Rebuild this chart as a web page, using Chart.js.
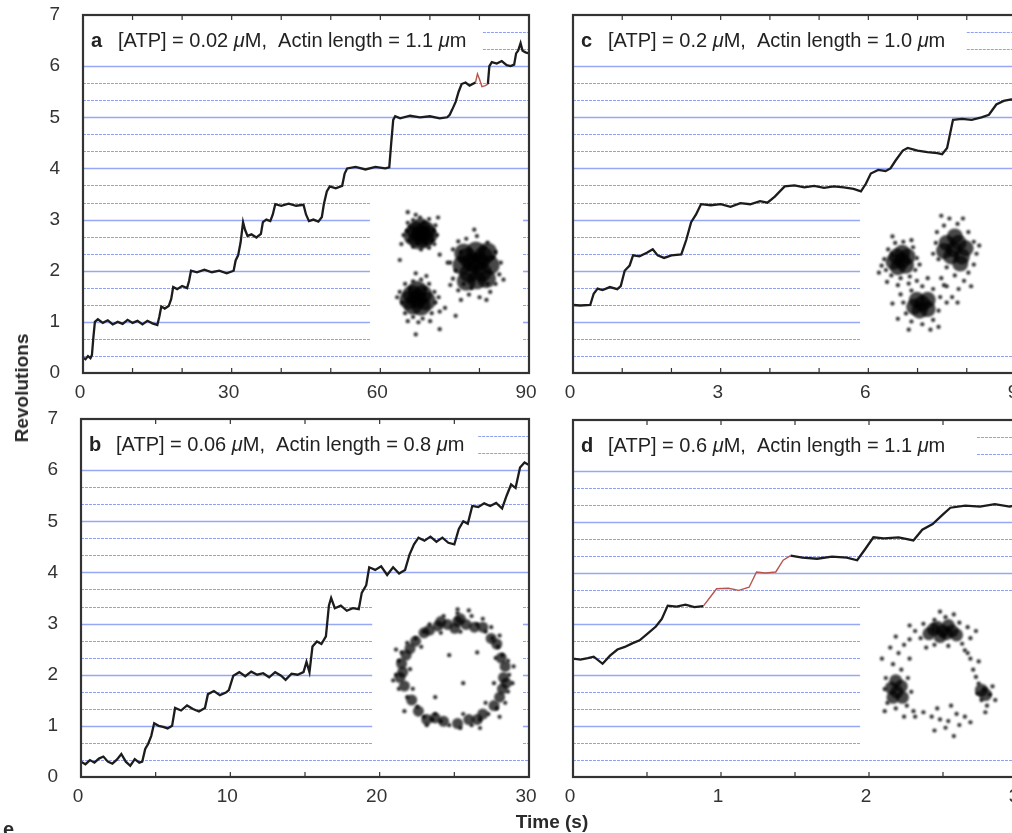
<!DOCTYPE html>
<html>
<head>
<meta charset="utf-8">
<script src="https://cdn.jsdelivr.net/npm/chart.js@4.4.1/dist/chart.umd.min.js"></script>
<style>
  html, body { margin: 0; padding: 0; background: #fff; }
  body { width: 1012px; height: 833px; overflow: hidden; position: relative; font-family: 'Liberation Sans', Arial, sans-serif; }
  canvas { position: absolute; }
  .lbl { position: absolute; font-weight: bold; font-size: 19px; color: #2a2a2a; white-space: nowrap; }
</style>
</head>
<body>
<canvas id="panelA" width="545" height="400" style="left:0;top:0"></canvas>
<canvas id="panelB" width="545" height="433" style="left:0;top:400px"></canvas>
<canvas id="panelC" width="500" height="400" style="left:545px;top:0"></canvas>
<canvas id="panelD" width="500" height="433" style="left:545px;top:400px"></canvas>
<canvas id="insetA" width="170" height="170" style="left:360px;top:183px"></canvas>
<canvas id="insetB" width="170" height="170" style="left:367px;top:587px"></canvas>
<canvas id="insetC" width="170" height="170" style="left:840px;top:185px"></canvas>
<canvas id="insetD" width="170" height="170" style="left:855px;top:593px"></canvas>
<div class="lbl" style="left:22px;top:388px;transform:translate(-50%,-50%) rotate(-90deg)">Revolutions</div>
<div class="lbl" style="left:552px;top:822px;transform:translate(-50%,-50%)">Time (s)</div>
<div class="lbl" style="left:3px;top:818px;font-size:20px">e</div>
<script>
// ---- traces: [time (s), revolutions] ----
const traceA = [[0,0.3],[0.5,0.27],[1,0.33],[1.5,0.29],[1.8,0.35],[2.1,0.7],[2.4,1.0],[3,1.05],[4,0.98],[5,1.03],[6,0.95],[7,1.0],[8,0.96],[9,1.04],[10,0.98],[11,1.02],[12,0.95],[13,1.02],[14,0.97],[15,0.94],[15.4,1.1],[15.8,1.3],[16.5,1.26],[17.3,1.31],[17.8,1.45],[18.2,1.68],[19,1.64],[20,1.7],[21,1.66],[21.4,1.8],[21.8,2.0],[23,1.97],[24.5,2.02],[26,1.97],[27.5,2.0],[29,1.95],[30.4,2.0],[30.8,2.2],[31.3,2.3],[31.8,2.55],[32.3,2.95],[32.7,2.8],[33.2,2.68],[34,2.71],[35,2.65],[35.9,2.72],[36.3,2.95],[37,3.0],[37.8,2.97],[38.3,3.1],[38.8,3.3],[40,3.27],[41.5,3.31],[43,3.27],[44.5,3.29],[45,3.1],[45.6,2.97],[46.5,3.0],[47.5,2.96],[48.2,3.05],[48.6,3.3],[49.2,3.55],[49.8,3.65],[51,3.61],[52.3,3.66],[52.8,3.9],[53.3,4.0],[55,4.03],[57,3.98],[59,4.03],[61,4.0],[61.8,4.02],[62.2,4.5],[62.6,4.95],[63,5.02],[64,4.98],[66,5.03],[68,5.0],[70,5.02],[72,4.98],[73.5,5.0],[74,5.05],[74.5,5.15],[75.2,5.3],[75.8,5.5],[76.4,5.65],[77.2,5.68],[78,5.62],[79.2,5.68]];
const traceARed = [[79.2,5.68],[79.6,5.85],[80,5.75],[80.5,5.6],[81.2,5.62],[81.7,5.65]];
const traceAEnd = [[81.7,5.65],[82,6.0],[82.5,6.08],[83.5,6.05],[84.5,6.1],[85.5,6.02],[86.3,6.0],[87,6.03],[87.4,6.25],[87.8,6.3],[88.3,6.45],[88.7,6.3],[89.3,6.27],[90,6.25]];

const traceB = [[0,0.3],[0.3,0.25],[0.6,0.33],[0.9,0.28],[1.2,0.36],[1.5,0.4],[1.8,0.3],[2.1,0.26],[2.4,0.34],[2.7,0.45],[3,0.3],[3.3,0.22],[3.6,0.35],[3.9,0.28],[4.1,0.3],[4.3,0.55],[4.5,0.65],[4.7,0.8],[4.9,1.05],[5.2,1.0],[5.5,0.98],[5.8,0.95],[6.1,1.0],[6.3,1.35],[6.7,1.3],[7.1,1.4],[7.5,1.33],[7.9,1.28],[8.3,1.35],[8.5,1.62],[8.9,1.68],[9.3,1.6],[9.7,1.65],[9.9,1.7],[10.2,1.98],[10.6,2.05],[11,1.97],[11.4,2.06],[11.8,2.0],[12.2,2.03],[12.6,1.95],[13,2.05],[13.4,1.98],[13.7,1.9],[14.1,2.02],[14.5,2.0],[14.9,2.05],[15.1,2.25],[15.3,2.05],[15.5,2.55],[15.8,2.65],[16.1,2.6],[16.4,2.75],[16.6,3.35],[16.75,3.5],[17,3.3],[17.4,3.35],[17.8,3.25],[18.2,3.3],[18.6,3.28],[18.8,3.6],[19.1,3.75],[19.3,4.1],[19.7,4.05],[20.1,4.12],[20.5,3.95],[20.9,4.1],[21.3,3.98],[21.7,4.05],[22,4.35],[22.3,4.55],[22.6,4.68],[23,4.62],[23.4,4.7],[23.8,4.6],[24.2,4.68],[24.6,4.58],[25,4.55],[25.3,4.85],[25.6,5.0],[25.9,4.95],[26.2,5.3],[26.6,5.28],[27,5.35],[27.4,5.3],[27.8,5.36],[28.2,5.25],[28.5,5.5],[28.8,5.72],[29.1,5.65],[29.4,6.05],[29.7,6.15],[30,6.1]];

const traceC = [[0,1.33],[0.15,1.32],[0.35,1.33],[0.42,1.55],[0.5,1.65],[0.6,1.62],[0.75,1.68],[0.9,1.64],[0.97,1.7],[1.05,2.0],[1.15,2.1],[1.22,2.3],[1.35,2.28],[1.5,2.35],[1.62,2.42],[1.72,2.3],[1.85,2.25],[2,2.3],[2.2,2.32],[2.3,2.6],[2.4,2.95],[2.5,3.1],[2.6,3.3],[2.8,3.28],[3,3.3],[3.2,3.25],[3.4,3.32],[3.6,3.3],[3.8,3.36],[3.95,3.33],[4.1,3.45],[4.3,3.65],[4.5,3.67],[4.7,3.63],[4.9,3.66],[5.1,3.62],[5.3,3.65],[5.5,3.63],[5.7,3.6],[5.85,3.55],[5.95,3.7],[6.05,3.9],[6.2,3.97],[6.35,3.95],[6.45,4.0],[6.55,4.15],[6.7,4.35],[6.8,4.4],[7,4.35],[7.2,4.32],[7.4,4.3],[7.5,4.28],[7.6,4.4],[7.72,4.95],[7.9,4.97],[8.1,4.95],[8.3,5.0],[8.45,5.05],[8.6,5.25],[8.75,5.32],[8.9,5.35],[9,5.33]];

const traceD = [[0,2.32],[0.05,2.3],[0.1,2.33],[0.14,2.36],[0.2,2.22],[0.25,2.38],[0.3,2.5],[0.35,2.55],[0.4,2.62],[0.45,2.68],[0.5,2.8],[0.56,2.95],[0.6,3.1],[0.64,3.36],[0.7,3.34],[0.76,3.38],[0.82,3.33],[0.88,3.35]];
const traceDRed = [[0.88,3.35],[0.92,3.5],[0.97,3.69],[1.05,3.7],[1.12,3.66],[1.19,3.72],[1.24,4.02],[1.3,4.0],[1.37,4.02],[1.42,4.25],[1.47,4.34]];
const traceDEnd = [[1.47,4.34],[1.55,4.3],[1.65,4.28],[1.75,4.32],[1.85,4.3],[1.92,4.25],[1.97,4.45],[2.03,4.7],[2.1,4.68],[2.2,4.7],[2.3,4.64],[2.36,4.85],[2.43,4.96],[2.5,5.15],[2.55,5.28],[2.65,5.32],[2.75,5.3],[2.85,5.35],[2.95,5.3],[3,5.33]];

// ---- 120 degree reference levels (revolutions) ----
const fullLevels = [0.333, 3.667, 4, 4.333, 4.667, 5, 5.333, 5.667, 6];
const cutLevels = [0.667, 1, 1.333, 1.667, 2, 2.333, 2.667, 3, 3.333];
const topLevels = [6.333, 6.667];
const yTicks = [0, 1, 2, 3, 4, 5, 6, 7];

// ---- inset bead positions [x, y] (arb. units) ----
const insetACore = [[-0.45,0.63],[-0.55,0.7],[-0.36,0.7],[-0.5,0.53],[-0.38,0.55],[-0.46,0.76],[-0.6,0.6],[-0.32,0.62],
  [0.58,0.08],[0.42,0.2],[0.72,0.22],[0.45,-0.1],[0.7,-0.08],[0.58,0.32],[0.6,-0.22],[0.32,0.05],[0.85,0.05],[0.5,0.1],[0.65,0.12],[0.4,-0.25],[0.78,-0.2],[0.35,0.28],[0.8,0.3],
  [-0.52,-0.58],[-0.62,-0.5],[-0.42,-0.5],[-0.6,-0.7],[-0.45,-0.72],[-0.52,-0.42],[-0.35,-0.62],[-0.68,-0.6]];
const insetASpread = [[-0.72,0.7],[-0.68,0.52],[-0.7,0.85],[-0.6,0.9],[-0.47,0.95],[-0.3,0.92],[-0.18,0.8],[-0.15,0.62],[-0.2,0.45],[-0.3,0.38],[-0.45,0.35],[-0.6,0.4],[-0.78,0.62],[-0.55,1.0],[-0.25,0.52],[-0.65,0.78],[-0.4,0.85],[-0.52,0.45],[-0.35,0.45],[-0.22,0.7],[-0.82,0.45],[-0.13,0.95],
  [0.1,0.1],[0.15,0.35],[0.25,0.5],[0.4,0.55],[0.6,0.6],[0.8,0.48],[0.95,0.3],[1.05,0.1],[1.02,-0.12],[0.95,-0.3],[0.85,-0.45],[0.65,-0.55],[0.45,-0.5],[0.25,-0.42],[0.15,-0.2],[0.2,-0.05],[0.3,0.3],[0.8,-0.3],[0.9,0.2],[0.35,-0.3],[0.75,0.38],[0.5,-0.38],[0.1,-0.32],[1.1,-0.22],[0.55,0.72],[0.3,-0.6],[0.78,-0.6],
  [-0.85,-0.45],[-0.8,-0.65],[-0.75,-0.85],[-0.6,-0.92],[-0.42,-0.95],[-0.25,-0.85],[-0.18,-0.65],[-0.2,-0.45],[-0.3,-0.3],[-0.45,-0.22],[-0.6,-0.25],[-0.75,-0.3],[-0.35,-0.15],[-0.5,-1.02],[-0.12,-0.55],[-0.7,-1.0],[-0.28,-1.0],[-0.9,-0.55],[-0.55,-0.1],[-0.1,-0.82],[-0.38,-0.4],[-0.65,-0.4],
  [0.0,-0.75],[-0.1,-1.15],[-0.55,-1.25],[0.2,-0.9],[0.05,0.1],[-0.1,0.25],[-0.85,0.15],[-0.7,1.05]];

const insetBCore = [[-0.08,0.85],[0.1,0.9],[0.25,0.85],[-0.25,0.82],[0.05,0.78],[0.4,0.8],[-0.4,0.75],
  [0.92,-0.1],[0.9,-0.3],[0.95,0.1],[0.85,-0.45],[0.88,0.25],
  [-0.88,0.0],[-0.85,-0.25],[-0.72,-0.5],[-0.6,-0.7],[-0.82,0.3],[-0.65,0.55],
  [0.3,-0.85],[0.1,-0.92],[0.55,-0.75],[-0.15,-0.88],[0.7,0.6],[-0.45,-0.85],
  [0.55,0.8],[0.8,0.5],[0.97,-0.2],[0.75,-0.6],[0.45,-0.85],[-0.3,-0.82],[-0.93,-0.1],[-0.9,0.15],[-0.75,0.42],[-0.5,0.7],[-0.2,0.9],[0.15,0.95]];
const insetBSpread = [[0.45,0.85],[0.6,0.72],[0.72,0.6],[0.82,0.45],[0.9,0.3],[1.0,0.2],[1.02,-0.05],[1.0,-0.35],[0.95,-0.55],[0.8,-0.65],[0.65,-0.75],[0.5,-0.85],[0.35,-0.95],[0.15,-1.0],[-0.05,-0.95],[-0.2,-0.88],[-0.35,-0.85],[-0.5,-0.8],[-0.62,-0.62],[-0.8,-0.45],[-0.95,-0.3],[-1.0,-0.05],[-0.95,0.2],[-0.9,0.35],[-0.8,0.52],[-0.65,0.6],[-0.5,0.72],[-0.4,0.85],[-0.15,1.0],[0.1,1.05],[0.35,1.0],[0.55,0.95],[0.7,0.8],[0.78,0.25],[0.75,-0.2],[-0.75,0.05],[-0.7,-0.3],[-0.55,0.45],[0.6,-0.55],[0.2,-0.75],[-0.3,-0.75],[0.15,0.72],[-0.2,0.7],[1.08,-0.2],[-1.05,-0.15],[0.1,1.12],[0.3,1.1],[-0.3,-0.45],[0.2,-0.2],[-0.05,0.3],[0.45,0.35],[1.1,0.1],[-1.0,0.4],[0.85,-0.8],[0.85,0.65],[-0.85,-0.7],[-0.45,-0.95],[0.5,-1.0]];

const insetCCore = [[-0.42,0.17],[-0.52,0.25],[-0.32,0.25],[-0.5,0.05],[-0.35,0.08],[-0.42,0.32],[-0.58,0.15],
  [0.53,0.38],[0.4,0.5],[0.62,0.5],[0.48,0.25],[0.68,0.25],[0.55,0.62],[0.35,0.35],[0.75,0.4],[0.65,0.12],
  [-0.05,-0.62],[-0.15,-0.55],[0.05,-0.55],[-0.1,-0.75],[0.05,-0.72],[-0.2,-0.68]];
const insetCSpread = [[-0.75,0.2],[-0.72,0.0],[-0.68,0.38],[-0.55,0.5],[-0.4,0.52],[-0.22,0.42],[-0.15,0.22],[-0.18,0.0],[-0.28,-0.12],[-0.45,-0.15],[-0.62,-0.1],[-0.8,0.08],[-0.6,0.3],[-0.3,-0.25],[-0.85,-0.05],[-0.5,-0.28],[-0.25,0.55],[-0.1,0.1],[-0.7,-0.22],[-0.6,0.62],
  [0.2,0.5],[0.22,0.7],[0.35,0.82],[0.45,0.95],[0.6,0.85],[0.8,0.7],[0.9,0.52],[0.95,0.3],[0.9,0.1],[0.8,-0.05],[0.72,-0.2],[0.55,-0.1],[0.4,0.05],[0.25,0.2],[0.3,-0.15],[0.62,-0.35],[0.5,-0.5],[0.4,-0.3],[0.15,0.3],[1.0,0.45],[0.7,0.95],[0.3,1.0],[0.85,-0.3],[0.6,-0.6],
  [-0.4,-0.6],[-0.35,-0.8],[-0.25,-0.95],[-0.05,-1.0],[0.15,-0.92],[0.25,-0.75],[0.28,-0.5],[0.15,-0.35],[-0.05,-0.3],[-0.25,-0.38],[-0.45,-0.45],[0.35,-0.28],[-0.5,-0.9],[0.1,-1.1],[-0.3,-1.1],[0.4,-0.6],[-0.15,-0.2],[0.05,-0.15],[-0.6,-0.62],[0.25,-1.05]];

const insetDCore = [[0.05,0.85],[-0.12,0.88],[0.22,0.85],[0.0,0.75],[0.15,0.95],[-0.2,0.8],[0.3,0.78],[0.12,0.8],[-0.05,0.92],
  [-0.78,-0.25],[-0.88,-0.18],[-0.7,-0.15],[-0.85,-0.35],[-0.68,-0.35],[-0.8,-0.05],[0.82,-0.3],[0.75,-0.22]];
const insetDSpread = [[-0.45,0.85],[-0.35,0.72],[-0.3,0.98],[-0.1,1.05],[0.1,1.1],[0.35,1.0],[0.5,0.92],[0.55,0.72],[0.4,0.62],[0.15,0.58],[-0.1,0.6],[0.65,0.85],[-0.55,0.95],[0.25,1.15],[0.0,1.2],[-0.25,0.55],[0.45,0.5],
  [-1.0,-0.2],[-0.98,0.0],[-0.95,-0.45],[-0.8,-0.55],[-0.6,-0.5],[-0.52,-0.25],[-0.58,0.0],[-0.7,0.15],[-0.85,0.25],[-0.75,0.45],[-0.9,0.55],[-0.65,0.6],[-0.55,0.7],[-0.8,0.75],[-1.05,0.35],[-0.48,-0.6],[-0.65,-0.7],[-1.0,-0.6],[-0.55,0.35],
  [0.7,-0.1],[0.8,-0.2],[0.9,-0.3],[0.75,-0.4],[0.85,-0.5],[0.95,-0.15],[0.68,-0.28],[0.6,0.15],[0.55,0.35],[0.65,0.02],[1.0,-0.4],[0.82,-0.62],[0.5,0.45],[0.7,0.3],
  [0.0,-0.75],[-0.15,-0.7],[0.15,-0.78],[0.3,-0.65],[0.45,-0.7],[-0.3,-0.62],[-0.45,-0.7],[0.1,-0.9],[0.35,-0.85],[-0.1,-0.95],[0.55,-0.8],[0.25,-1.05],[-0.05,-0.55],[0.2,-0.5]];

const FONT = "'Liberation Sans', Arial, sans-serif";
const toXY = arr => arr.map(p => ({ x: p[0], y: p[1] }));

/*** grid levels, frame, inward ticks and panel title ***/
const panelDecor = {
    id: 'panelDecor',
    beforeDatasetsDraw(chart, args, o) {
        const { ctx, scales: { x, y } } = chart;
        const hline = (v, x0, x1) => {
            const isInt = Math.abs(v - Math.round(v)) < 0.01;
            ctx.strokeStyle = isInt ? 'rgba(115,138,242,0.75)' : '#8ea1f6';
            ctx.lineWidth = isInt ? 1.6 : 1;
            ctx.setLineDash(isInt ? [] : [3, 1]);
            const py = Math.round(y.getPixelForValue(v)) + 0.5;
            ctx.beginPath();
            ctx.moveTo(x.getPixelForValue(x0), py);
            ctx.lineTo(x.getPixelForValue(x1), py);
            ctx.stroke();
        };
        ctx.save();
        fullLevels.forEach(v => hline(v, x.min, x.max));
        cutLevels.forEach(v => {
            hline(v, x.min, o.cutX);
            if (o.stubFrom != null) hline(v, o.stubFrom, x.max);
        });
        topLevels.forEach(v => hline(v, o.topFrom, x.max));
        ctx.restore();
    },
    afterDraw(chart, args, o) {
        const { ctx, chartArea: a, scales: { x } } = chart;
        ctx.save();
        ctx.strokeStyle = '#333';
        ctx.lineWidth = 1.2;
        x.ticks.forEach(t => {
            const px = x.getPixelForValue(t.value);
            ctx.beginPath();
            ctx.moveTo(px, a.bottom); ctx.lineTo(px, a.bottom - 5);
            ctx.moveTo(px, a.top); ctx.lineTo(px, a.top + 5);
            ctx.stroke();
        });
        ctx.lineWidth = 2.2;
        ctx.strokeRect(a.left, a.top, a.right - a.left, a.bottom - a.top);

        // title
        const ty = a.top + 26;
        ctx.fillStyle = '#222';
        ctx.textBaseline = 'middle';
        ctx.font = 'bold 20px ' + FONT;
        ctx.fillText(o.letter, a.left + 8, ty);
        let tx = a.left + 35;
        o.title.forEach(part => {
            ctx.font = (part.italic ? 'italic ' : '') + '20px ' + FONT;
            ctx.fillText(part.t, tx, ty);
            tx += ctx.measureText(part.t).width;
        });
        ctx.restore();
    }
};

const titleParts = (atp, len) => [
    { t: '[ATP] = ' + atp + ' ' }, { t: '\u03bc', italic: true }, { t: 'M,  Actin length = ' + len + ' ' },
    { t: '\u03bc', italic: true }, { t: 'm' }
];

const buildPanel = (id, segs, p) => {
    const datasets = segs.map(s => ({
        data: toXY(s.data),
        borderColor: s.red ? '#b8554c' : '#1c1c1c',
        borderWidth: s.red ? 1.4 : 2.3,
        pointRadius: 0,
        tension: 0,
        fill: false
    }));
    return new Chart(document.getElementById(id), {
        type: 'line',
        data: { datasets },
        options: {
            responsive: false,
            animation: false,
            devicePixelRatio: 1,
            layout: { padding: { top: p.padTop, right: p.padRight, left: 0, bottom: 0 } },
            plugins: {
                legend: { display: false },
                tooltip: { enabled: false },
                panelDecor: p
            },
            scales: {
                x: {
                    type: 'linear', min: 0, max: p.xMax,
                    grid: { display: false, drawTicks: false },
                    border: { display: false },
                    afterFit: s => { s.height = p.xHeight; s.paddingLeft = 0; s.paddingRight = 0; },
                    ticks: {
                        stepSize: p.step, autoSkip: false, maxRotation: 0, padding: 8, labelOffset: -3,
                        color: '#333', font: { family: FONT, size: 19 },
                        callback: v => (Math.abs(v / p.labelEvery - Math.round(v / p.labelEvery)) < 1e-6 ? String(v) : '')
                    }
                },
                y: {
                    min: 0, max: 7,
                    grid: { display: false, drawTicks: false },
                    border: { display: false },
                    afterFit: s => { s.width = p.yWidth; s.paddingTop = 0; s.paddingBottom = 0; },
                    afterBuildTicks: s => { s.ticks = yTicks.map(v => ({ value: v })); },
                    ticks: {
                        display: p.showY, padding: 23,
                        color: '#333', font: { family: FONT, size: 19 }
                    }
                }
            }
        },
        plugins: [panelDecor]
    });
};

buildPanel('panelA', [{ data: traceA }, { data: traceARed, red: true }, { data: traceAEnd }], {
    padTop: 15, padRight: 16, xHeight: 27, yWidth: 83, showY: true,
    xMax: 90, step: 10, labelEvery: 30, cutX: 57.9, topFrom: 80.7, stubFrom: 88.8,
    letter: 'a', title: titleParts('0.02', '1.1')
});
buildPanel('panelB', [{ data: traceB }], {
    padTop: 19, padRight: 16, xHeight: 56, yWidth: 81, showY: true,
    xMax: 30, step: 5, labelEvery: 10, cutX: 19.5, topFrom: 26.6, stubFrom: 29.6,
    letter: 'b', title: titleParts('0.06', '0.8')
});
buildPanel('panelC', [{ data: traceC }], {
    padTop: 15, padRight: 29, xHeight: 27, yWidth: 28, showY: false,
    xMax: 9, step: 1, labelEvery: 3, cutX: 5.83, topFrom: 8.0, stubFrom: null,
    letter: 'c', title: titleParts('0.2', '1.0')
});
buildPanel('panelD', [{ data: traceD }, { data: traceDRed, red: true }, { data: traceDEnd }], {
    padTop: 20, padRight: 28, xHeight: 56, yWidth: 28, showY: false,
    xMax: 3, step: 0.5, labelEvery: 1, cutX: 1.94, topFrom: 2.73, stubFrom: null,
    letter: 'd', title: titleParts('0.6', '1.1')
});

/*** bead position insets ***/
const softDots = {
    id: 'softDots',
    beforeDatasetsDraw(chart) { chart.ctx.save(); chart.ctx.filter = 'blur(0.9px)'; },
    afterDatasetsDraw(chart) { chart.ctx.restore(); }
};

const buildInset = (id, core, spread, coreR) => new Chart(document.getElementById(id), {
    type: 'scatter',
    data: {
        datasets: [
            { data: toXY(core), pointRadius: coreR, backgroundColor: 'rgba(0,0,0,0.72)', borderWidth: 0 },
            { data: toXY(spread), pointRadius: 2.1, backgroundColor: 'rgba(0,0,0,0.85)', borderWidth: 0 }
        ]
    },
    options: {
        responsive: false, animation: false, devicePixelRatio: 1,
        layout: { padding: 0 },
        plugins: { legend: { display: false }, tooltip: { enabled: false } },
        scales: {
            x: { display: false, min: -1.42, max: 1.42 },
            y: { display: false, min: -1.42, max: 1.42 }
        }
    },
    plugins: [softDots]
});

buildInset('insetA', insetACore, insetASpread, 9.5);
buildInset('insetB', insetBCore, insetBSpread, 5.5);
buildInset('insetC', insetCCore, insetCSpread, 8);
buildInset('insetD', insetDCore, insetDSpread, 6.5);
</script>
</body>
</html>
